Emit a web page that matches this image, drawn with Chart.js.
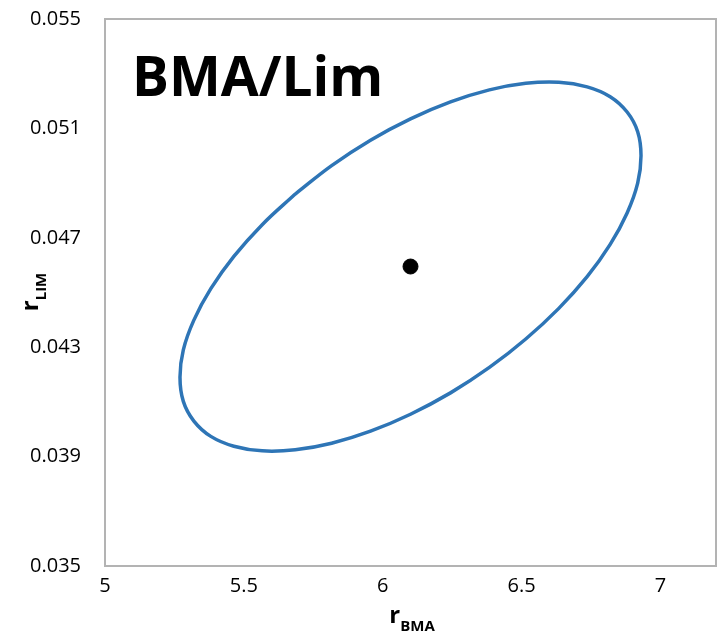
<!DOCTYPE html>
<html>
<head>
<meta charset="utf-8">
<script src="https://cdn.jsdelivr.net/npm/chart.js@4"></script>
<style>
    html, body { margin: 0; padding: 0; background: #fff; }
    #wrap { width: 721px; height: 636px; }
</style>
</head>
<body>
<div id="wrap"><canvas id="ellipseChart" width="721" height="636"></canvas></div>
<script>
'use strict';

// ellipse outline (starts on the upper-left side)
const ellipseX = [5.685, 5.566, 5.464, 5.381, 5.320, 5.282, 5.270, 5.282, 5.320, 5.381, 5.464, 5.566,
    5.685, 5.816, 5.956, 6.100, 6.244, 6.384, 6.515, 6.634, 6.736, 6.819, 6.880, 6.918,
    6.930, 6.918, 6.880, 6.819, 6.736, 6.634, 6.515, 6.384, 6.244, 6.100, 5.956, 5.816, 5.685];
const ellipseY = [0.04860, 0.04748, 0.04632, 0.04514, 0.04399, 0.04290, 0.04190, 0.04102, 0.04030, 0.03974, 0.03938, 0.03921,
    0.03925, 0.03949, 0.03993, 0.04055, 0.04133, 0.04226, 0.04330, 0.04442, 0.04558, 0.04676, 0.04791, 0.04900,
    0.05000, 0.05088, 0.05160, 0.05216, 0.05252, 0.05269, 0.05265, 0.05241, 0.05197, 0.05135, 0.05057, 0.04964, 0.04860];

const centerX = [6.1];
const centerY = [0.04595];

const xTicks = [5, 5.5, 6, 6.5, 7];
const yTicks = [0.035, 0.039, 0.043, 0.047, 0.051, 0.055];

const FONT = "'Open Sans', sans-serif";

const boxAndText = {
    id: 'boxAndText',
    afterDraw(chart) {
        const ctx = chart.ctx,
            a = chart.chartArea;
        ctx.save();
        ctx.strokeStyle = '#b3b3b3';
        ctx.lineWidth = 2;
        ctx.strokeRect(a.left, a.top, a.right - a.left, a.bottom - a.top);

        ctx.fillStyle = '#000';
        ctx.textBaseline = 'alphabetic';
        ctx.textAlign = 'left';
        ctx.font = 'bold 55px ' + FONT;
        ctx.fillText('BMA/Lim', a.left + 27, a.top + 77);

        // x title
        ctx.font = 'bold 24px ' + FONT;
        let rW = ctx.measureText('r').width;
        ctx.font = 'bold 15px ' + FONT;
        let sW = ctx.measureText('BMA').width;
        let x0 = 412 - (rW + sW) / 2;
        ctx.font = 'bold 24px ' + FONT;
        ctx.fillText('r', x0, 623);
        ctx.font = 'bold 15px ' + FONT;
        ctx.fillText('BMA', x0 + rW, 631);

        // y title
        ctx.translate(38, 292);
        ctx.rotate(-Math.PI / 2);
        ctx.font = 'bold 24px ' + FONT;
        rW = ctx.measureText('r').width;
        ctx.font = 'bold 15px ' + FONT;
        sW = ctx.measureText('LIM').width;
        x0 = -(rW + sW) / 2;
        ctx.font = 'bold 24px ' + FONT;
        ctx.fillText('r', x0, 0);
        ctx.font = 'bold 15px ' + FONT;
        ctx.fillText('LIM', x0 + rW, 8);
        ctx.restore();
    }
};

document.addEventListener('DOMContentLoaded', () => {
    const data = {
        datasets: [{
            label: 'ellipse',
            data: ellipseX.map((x, i) => ({ x: x, y: ellipseY[i] })),
            showLine: true,
            borderColor: '#2e75b6',
            borderWidth: 3.5,
            pointRadius: 0,
            tension: 0.4,
            fill: false
        }, {
            label: 'center',
            data: centerX.map((x, i) => ({ x: x, y: centerY[i] })),
            backgroundColor: '#000',
            borderColor: '#000',
            pointRadius: 7.5
        }]
    };

    const config = {
        type: 'scatter',
        data: data,
        options: {
            responsive: false,
            animation: false,
            layout: {
                autoPadding: false,
                padding: { left: 0, right: 5, top: 19, bottom: 0 }
            },
            plugins: {
                legend: { display: false },
                tooltip: { enabled: false }
            },
            scales: {
                x: {
                    min: 5,
                    max: 7.2,
                    grid: { display: false },
                    border: { display: false },
                    afterBuildTicks: scale => {
                        scale.ticks = xTicks.map(v => ({ value: v }));
                    },
                    afterFit: scale => {
                        scale.height = 70;
                        scale.paddingRight = 0;
                        scale.paddingLeft = 0;
                    },
                    ticks: {
                        color: '#000',
                        padding: 0,
                        font: { family: FONT, size: 20 },
                        maxRotation: 0,
                        callback: v => String(v)
                    }
                },
                y: {
                    min: 0.035,
                    max: 0.055,
                    grid: { display: false },
                    border: { display: false },
                    afterBuildTicks: scale => {
                        scale.ticks = yTicks.map(v => ({ value: v }));
                    },
                    afterFit: scale => {
                        scale.width = 105;
                        scale.paddingTop = 0;
                        scale.paddingBottom = 0;
                    },
                    ticks: {
                        color: '#000',
                        padding: 16,
                        font: { family: FONT, size: 20 },
                        callback: v => Number(v).toFixed(3)
                    }
                }
            }
        },
        plugins: [boxAndText]
    };

    new Chart(document.getElementById('ellipseChart'), config);
});
</script>
</body>
</html>
